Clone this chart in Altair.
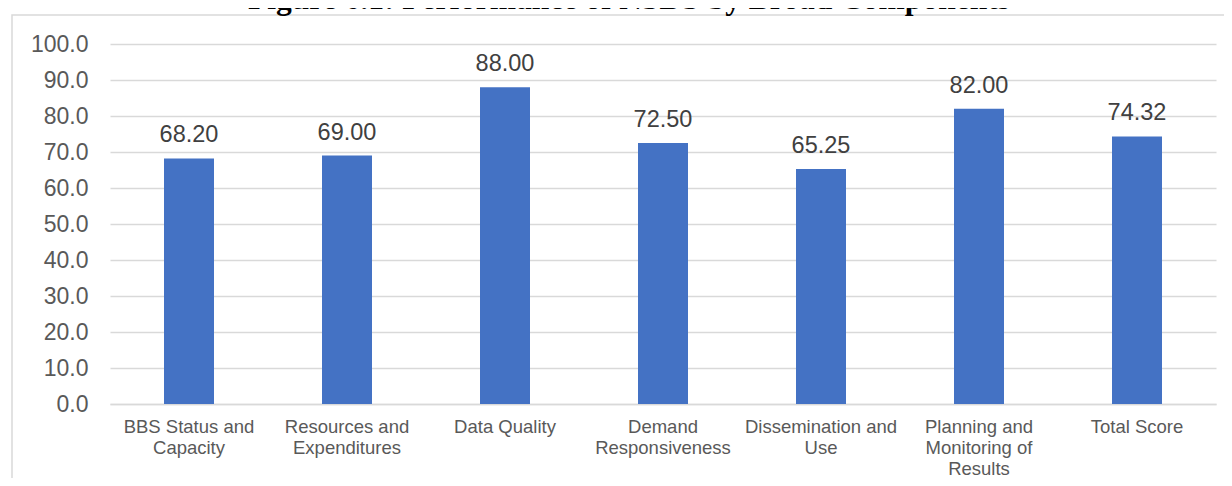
import altair as alt
import pandas as pd

categories = [
    "BBS Status and|Capacity",
    "Resources and|Expenditures",
    "Data Quality",
    "Demand|Responsiveness",
    "Dissemination and|Use",
    "Planning and|Monitoring of|Results",
    "Total Score",
]
scores = [68.20, 69.00, 88.00, 72.50, 65.25, 82.00, 74.32]
y_ticks = [0, 10, 20, 30, 40, 50, 60, 70, 80, 90, 100]
title_text = "Figure 6.1: Performance of NSDS by Broad Components"

df = pd.DataFrame({"category": categories, "score": scores})

x_enc = alt.X(
    "category:N",
    sort=categories,
    scale=alt.Scale(paddingInner=0, paddingOuter=0),
    axis=alt.Axis(
        title=None,
        labelExpr="split(datum.label, '|')",
        labelAngle=0,
        labelFont="Liberation Sans",
        labelFontSize=18.5,
        labelColor="#595959",
        labelLineHeight=21,
        labelPadding=13,
        labelOverlap=False,
        labelLimit=0,
        ticks=False,
        domain=True,
        domainColor="#d9d9d9",
        domainWidth=1.5,
    ),
)
y_enc = alt.Y(
    "score:Q",
    scale=alt.Scale(domain=[0, 100], nice=False),
    axis=alt.Axis(
        title=None,
        values=y_ticks,
        format=".1f",
        grid=True,
        gridColor="#d9d9d9",
        gridWidth=1.3,
        domain=False,
        ticks=False,
        labelFont="Liberation Sans",
        labelFontSize=23,
        labelColor="#595959",
        labelPadding=22,
    ),
)

base = alt.Chart(df).encode(x=x_enc, y=y_enc)

bars = base.mark_bar(size=50, color="#4472c4")
labels = base.mark_text(
    dy=-16, baseline="alphabetic", fontSize=23.5, color="#404040", font="Liberation Sans"
).encode(text=alt.Text("score:Q", format=".2f"))

one = alt.Data(values=[{}])
frame = alt.Chart(one).mark_rect(fillOpacity=0, stroke="#d9d9d9", strokeWidth=1.5).encode(
    x=alt.value(-98), y=alt.value(-29), x2=alt.value(1300), y2=alt.value(600)
)
title = alt.Chart(one).mark_text(
    font="Liberation Serif", fontWeight="bold", fontSize=31.5, color="#000000",
    align="center", baseline="alphabetic"
).encode(x=alt.value(519), y=alt.value(-35.5), text=alt.value(title_text))

chart = (
    alt.layer(frame, title, bars, labels)
    .properties(
        width=1106,
        height=360,
        padding={"left": 102, "top": 36, "right": 8, "bottom": 74},
        autosize=alt.AutoSizeParams(type="none"),
        background="white",
    )
    .configure_view(stroke=None)
)

chart.save("out.html", embed_options={"renderer": "svg", "actions": False})
